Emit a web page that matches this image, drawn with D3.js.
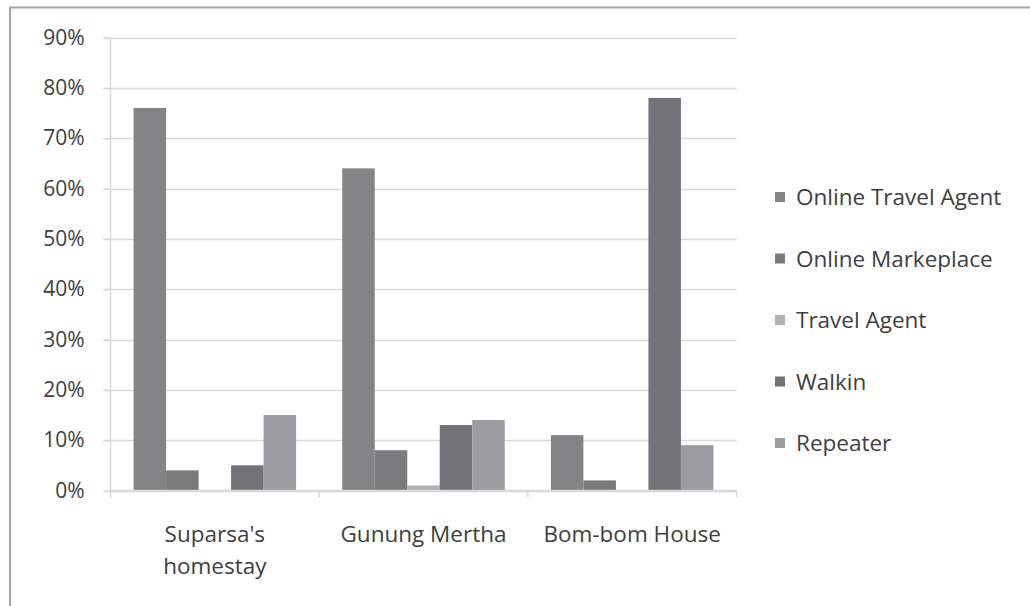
<!DOCTYPE html>
<html>
<head>
<meta charset="utf-8">
<script src="https://cdn.jsdelivr.net/npm/d3@7"></script>
<style>
  html, body { margin: 0; padding: 0; background: #fff; }
  svg { display: block; }
  text { font-family: "Open Sans", sans-serif; fill: #404040; }
</style>
</head>
<body>
<svg id="chart" width="1030" height="606"></svg>
<script>
const categories = ["Suparsa's\nhomestay", "Gunung Mertha", "Bom-bom House"];
const seriesNames = ["Online Travel Agent", "Online Markeplace", "Travel Agent", "Walkin", "Repeater"];
const seriesColors = ["#848486", "#7b7b7d", "#b2b2b4", "#727377", "#9b9c9f"];
const onlineTravelAgent = [76, 64, 11];
const onlineMarkeplace = [4, 8, 2];
const travelAgent = [0, 1, 0];
const walkin = [5, 13, 78];
const repeater = [15, 14, 9];
const yTicks = [0, 10, 20, 30, 40, 50, 60, 70, 80, 90];

const seriesValues = [onlineTravelAgent, onlineMarkeplace, travelAgent, walkin, repeater];

const svg = d3.select("#chart");
const W = 1030, H = 606;
const pLeft = 110.5, pRight = 736.5, pTop = 37.5, pBottom = 490.5;
const FS = "22.5px";

// frame
svg.append("line").attr("x1", 10).attr("x2", W).attr("y1", 7.5).attr("y2", 7.5)
  .attr("stroke", "#a6a6a6").attr("stroke-width", 2);
svg.append("line").attr("x1", 10).attr("x2", 10).attr("y1", 6.5).attr("y2", H)
  .attr("stroke", "#a6a6a6").attr("stroke-width", 2);

const y = d3.scaleLinear().domain([0, 90]).range([pBottom, pTop]);
const x0 = d3.scaleBand().domain(categories).range([pLeft, pRight]).padding(0);
const x1 = d3.scaleBand().domain(seriesNames).range([0, x0.bandwidth()])
  .paddingInner(0).paddingOuter(0.71);

// gridlines
const grid = svg.append("g");
grid.selectAll("line").data(yTicks).join("line")
  .attr("x1", pLeft - 7).attr("x2", pRight)
  .attr("y1", d => Math.round(y(d)) + 0.5).attr("y2", d => Math.round(y(d)) + 0.5)
  .attr("stroke", "#d9d9d9").attr("stroke-width", 1.5);

// y axis
const yAxis = svg.append("g").attr("transform", `translate(${pLeft},0)`)
  .call(d3.axisLeft(y).tickValues(yTicks).tickFormat(d => d + "%").tickSize(7).tickPadding(19));
yAxis.select(".domain").attr("stroke", "#d9d9d9").attr("stroke-width", 1.5)
  .attr("d", `M0,${pTop}V${pBottom + 7}`);
yAxis.selectAll(".tick line").attr("stroke", "#d9d9d9").attr("stroke-width", 1.5);
yAxis.selectAll(".tick text").style("font-size", "21px").style("font-family", "Open Sans").attr("fill", "#404040");

// bars
const groups = svg.append("g").selectAll("g").data(categories).join("g")
  .attr("transform", d => `translate(${x0(d)},0)`);
groups.selectAll("rect").data((d, ci) => seriesNames.map((s, si) => ({ s, si, v: seriesValues[si][ci] })))
  .join("rect")
  .attr("x", d => x1(d.s))
  .attr("width", x1.bandwidth())
  .attr("y", d => y(d.v))
  .attr("height", d => y(0) - y(d.v))
  .attr("fill", d => seriesColors[d.si]);

// x axis
const xAxis = svg.append("g").attr("transform", `translate(0,${pBottom})`);
xAxis.append("line").attr("x1", pLeft).attr("x2", pRight).attr("y1", 0).attr("y2", 0)
  .attr("stroke", "#d9d9d9").attr("stroke-width", 1.5);
const boundaries = categories.map(c => x0(c)).concat([x0(categories[categories.length - 1]) + x0.bandwidth()]);
xAxis.selectAll("line.tk").data(boundaries).join("line").attr("class", "tk")
  .attr("x1", d => d).attr("x2", d => d).attr("y1", 0).attr("y2", 7)
  .attr("stroke", "#d9d9d9").attr("stroke-width", 1.5);
xAxis.selectAll("text").data(categories).join("text")
  .attr("text-anchor", "middle")
  .attr("transform", d => `translate(${x0(d) + x0.bandwidth() / 2},0)`)
  .style("font-size", FS)
  .each(function (d) {
    const lines = d.split("\n");
    d3.select(this).selectAll("tspan").data(lines).join("tspan")
      .attr("x", 0).attr("y", (l, i) => 51 + i * 32).text(l => l);
  });

// legend
const legend = svg.append("g").attr("transform", "translate(775,197)");
const items = legend.selectAll("g").data(seriesNames).join("g")
  .attr("transform", (d, i) => `translate(0,${i * 61.5})`);
items.append("rect").attr("x", 0).attr("y", -5).attr("width", 10).attr("height", 10)
  .attr("fill", (d, i) => seriesColors[i]);
items.append("text").attr("x", 21).attr("y", 0).attr("dy", "0.36em")
  .style("font-size", FS).text(d => d);
</script>
</body>
</html>
